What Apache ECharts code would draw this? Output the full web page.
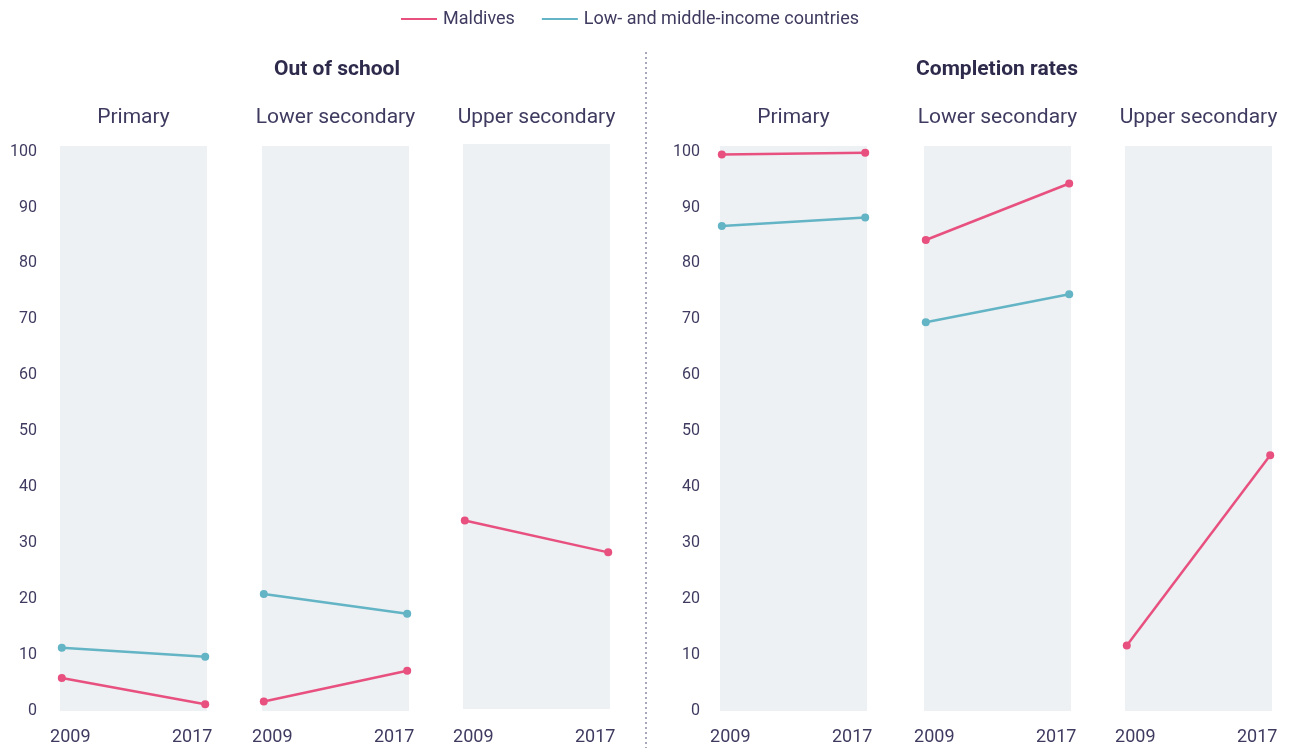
<!DOCTYPE html>
<html>
<head>
<meta charset="utf-8">
<script src="https://cdn.jsdelivr.net/npm/echarts@6/dist/echarts.min.js"></script>
<style>
html,body{margin:0;padding:0;background:#fff;}
#chart{width:1294px;height:748px;}
</style>
</head>
<body>
<div id="chart"></div>
<script>
const years = [2009, 2017];
const groupTitles = ['Out of school', 'Completion rates'];
const panelTitles = ['Primary', 'Lower secondary', 'Upper secondary'];
const yTicks = [0, 10, 20, 30, 40, 50, 60, 70, 80, 90, 100];
const seriesNames = ['Maldives', 'Low- and middle-income countries'];
// Out of school: [panel][year]
const maldivesOut = [[5.9, 1.2], [1.7, 7.2], [33.7, 28.0]];
const lmicOut = [[11.3, 9.7], [20.9, 17.4], [null, null]];
// Completion rates
const maldivesComp = [[99.5, 99.8], [84.2, 94.3], [11.7, 45.7]];
const lmicComp = [[86.7, 88.2], [69.5, 74.5], [null, null]];

const PINK = '#e8507f', TEAL = '#63b4c5', TXT = '#3f3b60', BG = '#edf1f4';
const FONT = 'Roboto';

const panelLefts = [60, 262, 463, 720, 924, 1125];
const panelTops = [146, 146, 144, 146, 146, 146];
const PW = 147, PH = 565;

const grids = [], xAxes = [], yAxes = [], series = [], graphics = [];
const allM = maldivesOut.concat(maldivesComp);
const allL = lmicOut.concat(lmicComp);

for (let i = 0; i < 6; i++) {
  grids.push({left: panelLefts[i], top: panelTops[i], width: PW, height: PH,
    show: true, backgroundColor: BG, borderWidth: 0});
  xAxes.push({type: 'value', gridIndex: i, min: 2008.9, max: 2017.1,
    axisLine: {show: false}, axisTick: {show: false}, splitLine: {show: false},
    axisLabel: {customValues: years, margin: 17 + (146 - panelTops[i]), color: TXT, fontFamily: FONT, fontSize: 18,
      formatter: v => v === years[0] ? '{a|' + v + '}' : '{b|' + v + '}',
      rich: {a: {padding: [0, 0, 0, 17], fontSize: 18, color: TXT, fontFamily: FONT},
             b: {padding: [0, 26, 0, 0], fontSize: 18, color: TXT, fontFamily: FONT}}}});
  const showY = (i === 0 || i === 3);
  yAxes.push({type: 'value', gridIndex: i, min: 0, max: 101,
    axisLine: {show: false}, axisTick: {show: false}, splitLine: {show: false},
    axisLabel: {show: showY, customValues: yTicks, margin: i === 0 ? 23 : 20,
      color: TXT, fontFamily: FONT, fontSize: 16}});
  const mk = (name, arr, color) => ({
    name: name, type: 'line', xAxisIndex: i, yAxisIndex: i,
    data: years.map((y, k) => [y, arr[k]]),
    symbol: 'circle', symbolSize: 8, showSymbol: true,
    lineStyle: {color: color, width: 2.5}, itemStyle: {color: color},
    clip: false, animation: false, z: name === seriesNames[0] ? 3 : 2
  });
  series.push(mk(seriesNames[1], allL[i], TEAL));
  series.push(mk(seriesNames[0], allM[i], PINK));
  graphics.push({type: 'text', x: panelLefts[i] + PW / 2, y: 118,
    style: {text: panelTitles[i % 3], fill: TXT, font: '21px ' + FONT, textAlign: 'center', textVerticalAlign: 'middle'}});
}
graphics.push({type: 'text', x: 337, y: 70,
  style: {text: groupTitles[0], fill: '#2e2a4c', font: 'bold 21px ' + FONT, textAlign: 'center', textVerticalAlign: 'middle'}});
graphics.push({type: 'text', x: 997, y: 70,
  style: {text: groupTitles[1], fill: '#2e2a4c', font: 'bold 21px ' + FONT, textAlign: 'center', textVerticalAlign: 'middle'}});
graphics.push({type: 'line', shape: {x1: 646, y1: 52, x2: 646, y2: 748},
  style: {stroke: '#8d8ba6', lineWidth: 1.5, lineDash: [2, 3]}});

const chart = echarts.init(document.getElementById('chart'), null, {renderer: 'canvas'});
chart.setOption({
  animation: false,
  legend: {top: 5, left: 396, itemWidth: 36, itemHeight: 2, itemGap: 27, icon: 'rect',
    data: [{name: seriesNames[0], itemStyle: {color: PINK}}, {name: seriesNames[1], itemStyle: {color: TEAL}}],
    textStyle: {color: TXT, fontFamily: FONT, fontSize: 18, padding: [0, 0, 0, 1]}},
  grid: grids, xAxis: xAxes, yAxis: yAxes, series: series, graphic: graphics
});
</script>
</body>
</html>
